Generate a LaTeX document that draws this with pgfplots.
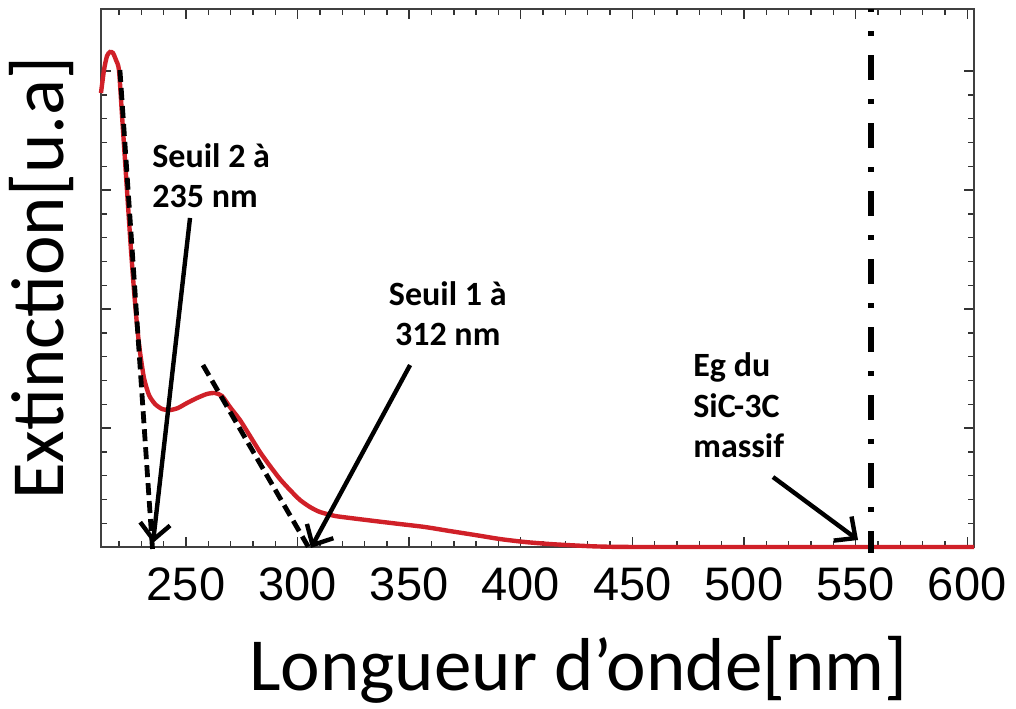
\documentclass[border=0pt]{standalone}
\usepackage{pgfplots}
\pgfplotsset{compat=1.18}
\usetikzlibrary{arrows.meta}
\usepackage{fontspec}
\setmainfont{Carlito}
\newfontfamily\tickfont{Liberation Sans}

\definecolor{specred}{RGB}{208,32,40}

\begin{document}
\begin{tikzpicture}
\useasboundingbox (-50.5pt,-80.5pt) rectangle (457.5pt,273.5pt);
\begin{axis}[
    scale only axis,
    width=436.5pt, height=269pt,
    xmin=211.92, xmax=603.05,
    ymin=0, ymax=4.521,
    xtick={200,250,...,650},
    minor x tick num=4,
    ytick={0,1,2,3,4},
    minor y tick num=4,
    yticklabels={},
    tick align=inside,
    major tick length=5pt,
    minor tick length=3pt,
    every tick/.style={black!80, line width=0.7pt},
    axis line style={black!75, line width=0.9pt},
    /pgf/number format/assume math mode=true,
    xticklabel style={font=\tickfont\fontsize{23.5}{24}\selectfont, anchor=base, yshift=-26.5pt},
    xlabel={Longueur d’onde[nm]},
    ylabel={Extinction[u.a]},
    xlabel style={font=\fontsize{37.5}{40}\selectfont, at={(axis description cs:0.547,-0.266)}, anchor=base},
    ylabel style={font=\fontsize{37.5}{40}\selectfont, at={(axis description cs:-0.0435,0.5)}, anchor=base},
    clip=false,
  ]
% extinction spectrum
\addplot[specred, line width=2.2pt, smooth, tension=0.4] coordinates {
  (211.92,3.815) (213.26,4.008) (214.61,4.126) (215.95,4.160) (217.29,4.151)
  (218.64,4.092) (219.98,4.008) (221.33,3.630) (222.67,3.252) (224.01,2.874)
  (225.36,2.496) (226.70,2.160) (228.05,1.866) (229.39,1.639) (231.18,1.420)
  (233.42,1.277) (236.11,1.202) (239.25,1.160) (242.83,1.151) (246.42,1.168)
  (250.45,1.210) (254.93,1.252) (259.41,1.286) (263.00,1.294) (266.13,1.269)
  (269.71,1.176) (274.19,1.067) (278.67,0.933) (283.15,0.798) (287.63,0.681)
  (292.11,0.571) (296.59,0.479) (301.08,0.395) (305.56,0.336) (310.04,0.294)
  (316.76,0.261) (323.48,0.244) (334.68,0.218) (345.88,0.193) (357.08,0.168)
  (368.28,0.134) (379.48,0.101) (390.68,0.067) (401.88,0.042) (413.08,0.025)
  (424.28,0.013) (435.48,0.004) (457.89,0.000) (603.05,0.000)
};
% tangents
\addplot[black, line width=2.4pt, dash pattern=on 6pt off 3pt] coordinates {(220.4,4.008) (235.0,-0.02)};
\addplot[black, line width=2.4pt, dash pattern=on 6pt off 3pt] coordinates {(257.6,1.529) (305.6,-0.025)};
% Eg of bulk SiC-3C
\addplot[black, line width=2.6pt, dash pattern=on 2.5pt off 9.5pt on 12.5pt off 9.5pt, dash phase=23pt] coordinates {(556.9,4.521) (556.9,-0.05)};
% arrows
\addplot[black, line width=2.2pt, -{Straight Barb[length=8pt,width=15pt]}] coordinates {(251.8,2.765) (235.2,0.034)};
\addplot[black, line width=2.2pt, -{Straight Barb[length=8pt,width=15pt]}] coordinates {(350.4,1.529) (306.0,-0.008)};
\addplot[black, line width=2.2pt, -{Straight Barb[length=8pt,width=15pt]}] coordinates {(513.0,0.588) (551.1,0.059)};
% annotations
\begin{scope}[every node/.style={font=\bfseries\fontsize{17}{20}\selectfont, inner sep=0pt}]
\node[anchor=base west] at (axis cs:234.77,3.193) {Seuil 2 à};
\node[anchor=base west] at (axis cs:234.77,2.849) {235 nm};
\node[anchor=base] at (axis cs:367.27,2.028) {Seuil 1 à};
\node[anchor=base] at (axis cs:367.27,1.697) {312 nm};
\node[anchor=base west] at (axis cs:477.15,1.437) {Eg du};
\node[anchor=base west] at (axis cs:477.15,1.092) {SiC-3C};
\node[anchor=base west] at (axis cs:477.15,0.756) {massif};
\end{scope}
\end{axis}
\end{tikzpicture}
\end{document}
